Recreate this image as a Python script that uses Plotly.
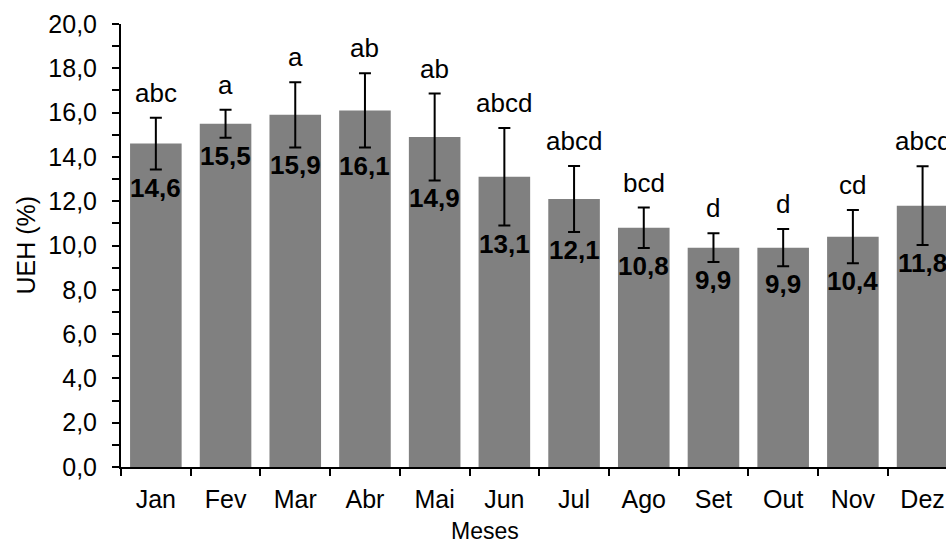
import plotly.graph_objects as go

months = ["Jan", "Fev", "Mar", "Abr", "Mai", "Jun", "Jul", "Ago", "Set", "Out", "Nov", "Dez"]
ueh = [14.6, 15.5, 15.9, 16.1, 14.9, 13.1, 12.1, 10.8, 9.9, 9.9, 10.4, 11.8]
err = [1.17, 0.63, 1.47, 1.68, 1.96, 2.2, 1.49, 0.91, 0.65, 0.84, 1.2, 1.78]
letters = ["abc", "a", "a", "ab", "ab", "abcd", "abcd", "bcd", "d", "d", "cd", "abcd"]
y_ticks = [0, 2, 4, 6, 8, 10, 12, 14, 16, 18, 20]

FONT = "Liberation Sans, Arial, sans-serif"

fig = go.Figure()
fig.add_trace(go.Bar(
    x=months, y=ueh,
    marker=dict(color="#808080", line=dict(width=0)),
    error_y=dict(type="data", array=err, visible=True, color="black", thickness=2, width=6),
    width=0.74,
))

annotations = []
for m, v, e, l in zip(months, ueh, err, letters):
    annotations.append(dict(x=m, y=v + e, xref="x", yref="y", text=l, showarrow=False,
                            yanchor="bottom", yshift=8,
                            font=dict(family=FONT, size=26, color="black")))
    annotations.append(dict(x=m, y=v - e, xref="x", yref="y",
                            text="<b>" + f"{v:.1f}".replace(".", ",") + "</b>", showarrow=False,
                            yanchor="top", yshift=-1,
                            font=dict(family=FONT, size=26, color="black")))

annotations.append(dict(x=(485 - 121) / 825, y=0, xref="paper", yref="paper", text="Meses",
                        showarrow=False, yanchor="bottom", yshift=-79,
                        font=dict(family=FONT, size=23, color="black")))
annotations.append(dict(x=0, y=0.5, xref="paper", yref="paper", text="UEH (%)",
                        showarrow=False, xanchor="center", xshift=-96, textangle=-90,
                        font=dict(family=FONT, size=25, color="black")))

fig.update_layout(
    width=946, height=545,
    margin=dict(l=121, r=0, t=24, b=78),
    plot_bgcolor="white", paper_bgcolor="white",
    separators=",.",
    showlegend=False,
    annotations=annotations,
    font=dict(family=FONT, size=25, color="black"),
    xaxis=dict(
        type="category", range=[-0.5, 11.336],
        showline=True, linecolor="black", linewidth=2,
        ticks="outside", tickson="boundaries", ticklen=7, tickwidth=2, tickcolor="black",
        showgrid=False, zeroline=False,
        tickfont=dict(family=FONT, size=25, color="black"),
        ticklabelstandoff=9,
    ),
    yaxis=dict(
        range=[0, 20], tickvals=y_ticks, tickformat=".1f",
        showline=True, linecolor="black", linewidth=2,
        ticks="outside", ticklen=7, tickwidth=2, tickcolor="black",
        minor=dict(dtick=1, ticks="outside", ticklen=7, tickwidth=2, tickcolor="black", showgrid=False),
        showgrid=False, zeroline=False,
        tickfont=dict(family=FONT, size=25, color="black"),
        ticklabelstandoff=10,
    ),
)

fig.write_html("out.html")
